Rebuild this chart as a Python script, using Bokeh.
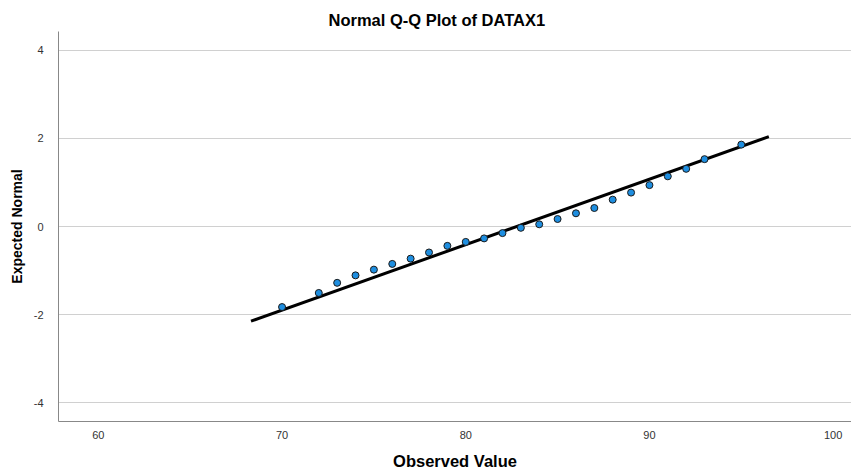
from bokeh.plotting import figure
from bokeh.models import Range1d, FixedTicker
from bokeh.embed import file_html
from bokeh.resources import INLINE

observed = [70, 72, 73, 74, 75, 76, 77, 78, 79, 80, 81, 82, 83, 84, 85, 86,
            87, 88, 89, 90, 91, 92, 93, 95]
expected = [-1.83, -1.51, -1.28, -1.11, -0.98, -0.85, -0.73, -0.59, -0.44, -0.35,
            -0.27, -0.15, -0.03, 0.05, 0.17, 0.30, 0.42, 0.61, 0.77, 0.94,
            1.14, 1.31, 1.53, 1.86]
line_x = [68.31, 96.5]
line_y = [-2.15, 2.04]
x_ticks = [60, 70, 80, 90, 100]
y_ticks = [-4, -2, 0, 2, 4]

p = figure(frame_width=793, frame_height=390, output_backend="svg",
           toolbar_location=None,
           x_range=Range1d(57.83, 101.0), y_range=Range1d(-4.43, 4.43),
           title="Normal Q-Q Plot of DATAX1",
           min_border_left=58, min_border_right=0, min_border_top=31,
           min_border_bottom=44)

p.title.align = "left"
p.title.text_font = "Liberation Sans"
p.title.text_font_size = "16.5px"
p.title.text_font_style = "bold"
p.title.text_color = "#000000"
p.title.offset = 270
p.title.standoff = 6

p.outline_line_color = None
p.background_fill_color = "white"
p.border_fill_color = "white"

p.xgrid.grid_line_color = None
p.ygrid.grid_line_color = "#d0d0d0"
p.ygrid.grid_line_width = 1

for ax in (p.xaxis[0], p.yaxis[0]):
    ax.axis_line_color = "#888888"
    ax.axis_line_width = 1
    ax.major_tick_line_color = None
    ax.minor_tick_line_color = None
    ax.major_tick_out = 0
    ax.major_tick_in = 0
    ax.minor_tick_out = 0
    ax.minor_tick_in = 0
    ax.major_label_text_font = "Liberation Sans"
    ax.major_label_text_font_size = "11px"
    ax.major_label_text_color = "#333333"
    ax.axis_label_text_font = "Liberation Sans"
    ax.axis_label_text_font_style = "bold"
    ax.axis_label_text_color = "#000000"

p.xaxis.axis_label_text_font_size = "16.5px"
p.yaxis.axis_label_text_font_size = "14px"
p.xaxis.ticker = FixedTicker(ticks=x_ticks)
p.yaxis.ticker = FixedTicker(ticks=y_ticks)
p.yaxis.major_label_overrides = {t: str(t) for t in y_ticks}
p.xaxis.axis_label = "Observed Value"
p.yaxis.axis_label = "Expected Normal"
p.xaxis.major_label_standoff = 9
p.yaxis.major_label_standoff = 15
p.xaxis.axis_label_standoff = 10
p.yaxis.axis_label_standoff = 6

p.line(line_x, line_y, line_color="black", line_width=3)
p.scatter(observed, expected, size=7, fill_color="#1e8ee0", line_color="#1a1a1a",
          line_width=1)

open("out.html", "w").write(file_html(p, INLINE))
